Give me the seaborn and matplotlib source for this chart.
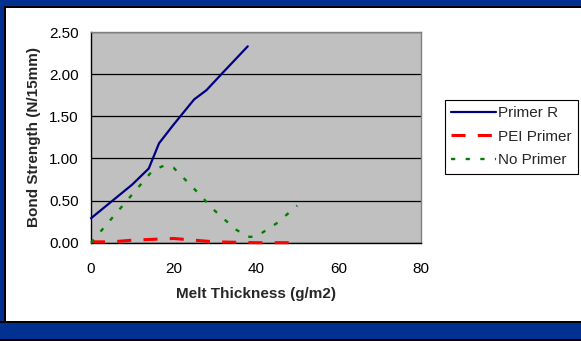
import matplotlib
matplotlib.use("Agg")
import matplotlib.pyplot as plt
from matplotlib.patches import Rectangle
from matplotlib.lines import Line2D
import seaborn as sns
import pandas as pd

# Bond strength (N/15mm) against melt thickness (g/m2)
primer_r_x = [0, 5, 10, 14, 16.5, 20, 25, 28, 32, 38]
primer_r_y = [0.29, 0.49, 0.69, 0.88, 1.18, 1.40, 1.70, 1.81, 2.02, 2.33]

pei_x = [0, 5, 10, 15, 20, 25, 30, 40, 48]
pei_y = [0.01, 0.01, 0.03, 0.04, 0.05, 0.03, 0.01, 0.0, 0.0]

no_primer_x = [0, 15, 18, 20, 25, 30, 35, 38, 40, 45, 50]
no_primer_y = [0, 0.86, 0.92, 0.89, 0.64, 0.38, 0.16, 0.07, 0.07, 0.23, 0.44]

series_names = ["Primer R", "PEI Primer", "No Primer"]
x_ticks = [0, 20, 40, 60, 80]
y_ticks = [0.0, 0.5, 1.0, 1.5, 2.0, 2.5]

sns.set_style("white")
plt.rcParams["font.family"] = ["Liberation Sans", "DejaVu Sans"]
plt.rcParams["font.size"] = 11

W, H = 581, 341
fig = plt.figure(figsize=(W / 100, H / 100), dpi=100)
fig.patch.set_facecolor("white")

navy = "#003090"
def px_rect(x0, y0_top, w, h, color):
    # rectangle given in pixels measured from the top-left corner
    fig.patches.append(Rectangle((x0 / W, 1 - (y0_top + h) / H), w / W, h / H,
                                 transform=fig.transFigure, color=color,
                                 zorder=-5, linewidth=0))

# dark blue frame around the white panel
px_rect(0, 0, W, 6, navy)
px_rect(0, 6, W, 1.5, "black")
px_rect(0, 0, 3.5, H, navy)
px_rect(3.5, 6, 2.5, 316, "black")
px_rect(0, 320.5, W, 2.5, "black")
px_rect(0, 323, W, 16, navy)
px_rect(0, 339, W, 2, "black")

ax = fig.add_axes([91 / W, 1 - 242.7 / H, 330 / W, 210.7 / H])
ax.set_facecolor("#C0C0C0")

frames = [
    pd.DataFrame({"x": primer_r_x, "y": primer_r_y, "s": series_names[0]}),
    pd.DataFrame({"x": pei_x, "y": pei_y, "s": series_names[1]}),
    pd.DataFrame({"x": no_primer_x, "y": no_primer_y, "s": series_names[2]}),
]
colors = {"Primer R": "#000080", "PEI Primer": "#FF0000", "No Primer": "#008000"}
widths = {"Primer R": 1.6, "PEI Primer": 2.2, "No Primer": 1.7}
dash_map = {"Primer R": (None, None), "PEI Primer": (4.6, 4.0), "No Primer": (1.8, 4.4)}

for df in frames:
    name = df["s"].iloc[0]
    kw = dict(data=df, x="x", y="y", ax=ax, color=colors[name],
              linewidth=widths[name], legend=False, estimator=None, sort=False)
    sns.lineplot(**kw)
    line = ax.lines[-1]
    line.set_clip_on(False)
    line.set_zorder(5)
    if dash_map[name][0] is not None:
        line.set_dashes(dash_map[name])
        line.set_dash_capstyle("butt")

ax.set_xlim(0, 80)
ax.set_ylim(0, 2.5)
ax.set_xticks(x_ticks)
ax.set_yticks(y_ticks)
ax.set_yticklabels([f"{v:.2f}" for v in y_ticks])
ax.set_xticklabels([str(v) for v in x_ticks])
ax.tick_params(axis="both", direction="out", length=4, width=0.8, color="black",
               labelsize=11, labelcolor="black")
ax.tick_params(axis="y", pad=5)
ax.tick_params(axis="x", pad=10)
ax.grid(axis="y", color="black", linewidth=0.9)
ax.grid(axis="x", visible=False)
ax.set_axisbelow(True)

for side in ["left", "bottom"]:
    ax.spines[side].set_color("black")
    ax.spines[side].set_linewidth(1.0)
for side in ["top", "right"]:
    ax.spines[side].set_color("#808080")
    ax.spines[side].set_linewidth(1.0)

ax.set_xlabel("Melt Thickness (g/m2)", fontweight="bold", fontsize=11, labelpad=8)
ax.set_ylabel("Bond Strength (N/15mm)", fontweight="bold", fontsize=11, labelpad=6)

handles = [
    Line2D([], [], color=colors["Primer R"], linewidth=1.6),
    Line2D([], [], color=colors["PEI Primer"], linewidth=2.2, dashes=dash_map["PEI Primer"],
           dash_capstyle="butt"),
    Line2D([], [], color=colors["No Primer"], linewidth=1.7, dashes=dash_map["No Primer"],
           dash_capstyle="butt"),
]
leg = fig.legend(handles, series_names, loc="upper left",
                 bbox_to_anchor=(445 / W, 1 - 99.5 / H), bbox_transform=fig.transFigure,
                 frameon=True, fancybox=False, edgecolor="black", facecolor="white",
                 framealpha=1, handlelength=2.9, handletextpad=0.12,
                 labelspacing=0.63, borderpad=0.42, borderaxespad=0, fontsize=11)
leg.get_frame().set_linewidth(0.8)

fig.savefig("out.png", dpi=100)
